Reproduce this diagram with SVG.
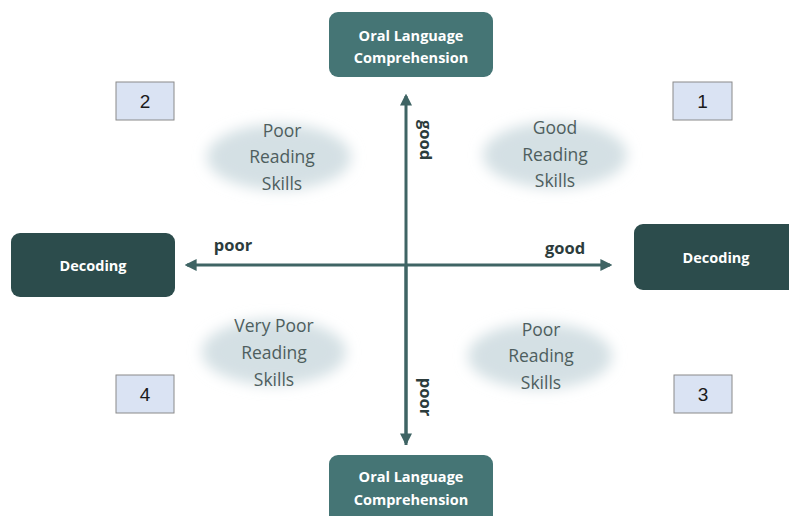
<svg xmlns="http://www.w3.org/2000/svg" width="789" height="516" viewBox="0 0 789 516">
<style>
.box{fill:#457575}
.dbox{fill:#2c4c4c}
.bt{font-family:"Open Sans","Liberation Sans",sans-serif;font-weight:bold;font-size:14.5px;fill:#ffffff;text-anchor:middle}
.num{fill:#dae3f3;stroke:#8a8a8a;stroke-width:1}
.nt{font-family:"Liberation Sans",sans-serif;font-size:19px;fill:#1a1a1a;text-anchor:middle}
.ell{fill:#d4e0e4;filter:url(#blur)}
.et{font-family:"Open Sans","Liberation Sans",sans-serif;font-size:17.5px;fill:#4e5e5e;text-anchor:middle}
.ax{stroke:#3f6464;stroke-width:3;fill:none}
.lab{font-family:"Open Sans","Liberation Sans",sans-serif;font-weight:bold;font-size:16.5px;fill:#2c3c3c;text-anchor:middle}
</style>
<defs>
<filter id="blur" x="-30%" y="-50%" width="160%" height="200%"><feGaussianBlur stdDeviation="7"/></filter>
<marker id="ah" viewBox="0 0 10 10" refX="8" refY="5" markerWidth="4" markerHeight="4" orient="auto" markerUnits="strokeWidth"><path d="M0,0 L10,5 L0,10 Z" fill="#3f6464"/></marker>
</defs>
<rect width="789" height="516" fill="#ffffff"/>
<g id="ellipses">
<ellipse class="ell" cx="279" cy="157" rx="72" ry="33"/>
<ellipse class="ell" cx="555" cy="155" rx="72" ry="33"/>
<ellipse class="ell" cx="274" cy="352" rx="72" ry="33"/>
<ellipse class="ell" cx="540" cy="356" rx="72" ry="33"/>
</g>
<g id="connectors">
<line class="ax" x1="406" y1="445" x2="406" y2="96" marker-end="url(#ah)"/>
<line class="ax" x1="406" y1="265" x2="406" y2="443" marker-end="url(#ah)"/>
<line class="ax" x1="406" y1="265" x2="187" y2="265" marker-end="url(#ah)"/>
<line class="ax" x1="406" y1="265" x2="610" y2="265" marker-end="url(#ah)"/>
<text class="lab" transform="translate(420,140) rotate(90)">good</text>
<text class="lab" transform="translate(420,397) rotate(90)">poor</text>
<text class="lab" x="233" y="251">poor</text>
<text class="lab" x="565" y="254">good</text>
</g>
<g id="oral-top">
<rect class="box" x="329" y="12" width="164" height="65" rx="9"/>
<text class="bt" x="411" y="41">Oral Language</text>
<text class="bt" x="411" y="63">Comprehension</text>
</g>
<g id="oral-bottom">
<rect class="box" x="329" y="455" width="164" height="70" rx="9"/>
<text class="bt" x="411" y="482">Oral Language</text>
<text class="bt" x="411" y="505">Comprehension</text>
</g>
<g id="decoding-left">
<rect class="dbox" x="11" y="233" width="164" height="64" rx="9"/>
<text class="bt" x="93" y="271">Decoding</text>
</g>
<g id="decoding-right">
<rect class="dbox" x="634" y="224" width="170" height="66" rx="9"/>
<text class="bt" x="716" y="263">Decoding</text>
</g>
<g id="q1">
<rect class="num" x="673" y="82" width="59" height="38"/>
<text class="nt" x="702.5" y="108">1</text>
<text class="et" x="555" y="134">Good</text>
<text class="et" x="555" y="161">Reading</text>
<text class="et" x="555" y="187">Skills</text>
</g>
<g id="q2">
<rect class="num" x="116" y="82" width="58" height="38"/>
<text class="nt" x="145" y="108">2</text>
<text class="et" x="282" y="137">Poor</text>
<text class="et" x="282" y="163">Reading</text>
<text class="et" x="282" y="190">Skills</text>
</g>
<g id="q3">
<rect class="num" x="674" y="375" width="58" height="38"/>
<text class="nt" x="703" y="401">3</text>
<text class="et" x="541" y="336">Poor</text>
<text class="et" x="541" y="362">Reading</text>
<text class="et" x="541" y="389">Skills</text>
</g>
<g id="q4">
<rect class="num" x="116" y="375" width="58" height="38"/>
<text class="nt" x="145" y="401">4</text>
<text class="et" x="274" y="332">Very Poor</text>
<text class="et" x="274" y="359">Reading</text>
<text class="et" x="274" y="386">Skills</text>
</g>
</svg>
